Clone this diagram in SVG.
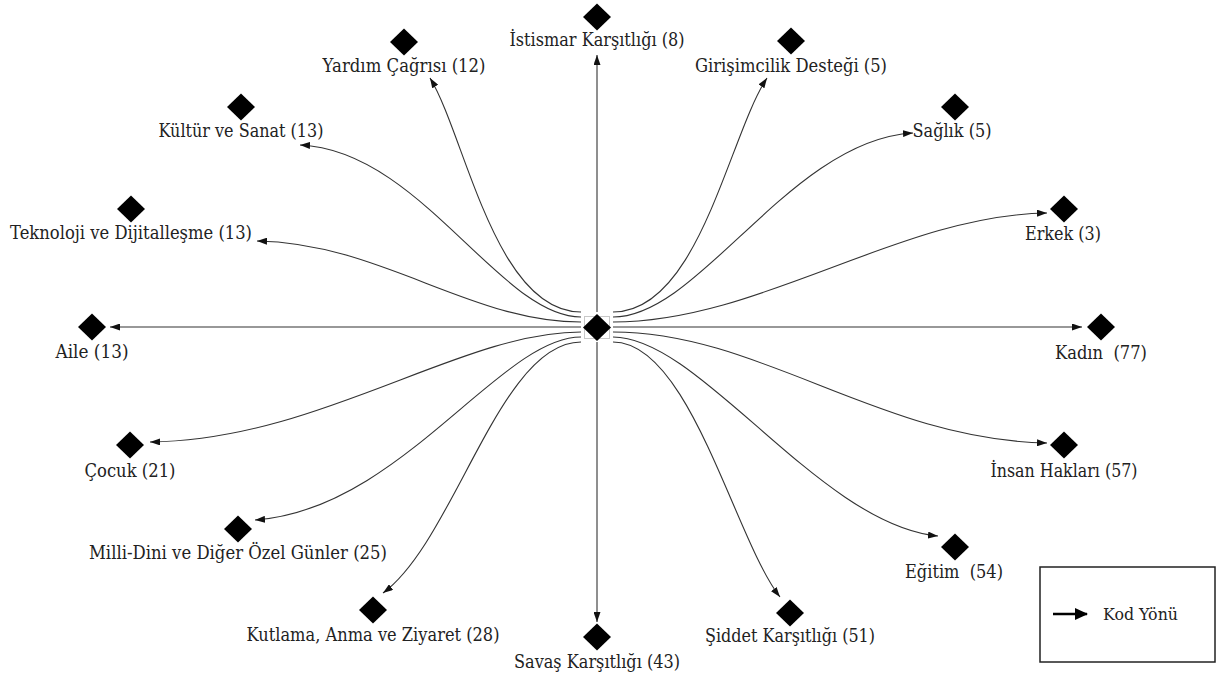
<svg xmlns="http://www.w3.org/2000/svg" width="1227" height="675" viewBox="0 0 1227 675">
<style>
  .lbl { font-family: "DejaVu Serif", "Liberation Serif", serif; font-size: 18px; fill: #222; text-anchor: middle; }
  .edge { fill: none; stroke: #333; stroke-width: 1.1; marker-end: url(#arr); }
  .dia { fill: #000; }
  .leg { font-family: "DejaVu Serif", "Liberation Serif", serif; font-size: 16px; fill: #222; }
</style>
<defs>
  <marker id="arr" markerUnits="userSpaceOnUse" markerWidth="10" markerHeight="7" refX="10" refY="3.5" orient="auto">
    <path d="M0,0 L10,3.5 L0,7 z" fill="#111"/>
  </marker>
  <marker id="arrL" markerUnits="userSpaceOnUse" markerWidth="14" markerHeight="12" refX="12" refY="6" orient="auto">
    <path d="M0,0 L13,6 L0,12 z" fill="#000"/>
  </marker>
  <polygon id="d" points="0,-13.5 14,0 0,13.5 -14,0"/>
</defs>
<rect width="1227" height="675" fill="#fff"/>

<g id="connectors">
  <path class="edge" d="M597,312 L597,55"/>
  <path class="edge" d="M597,342 L597,622"/>
  <path class="edge" d="M581,327 L110,327"/>
  <path class="edge" d="M613,327 L1082,327"/>
  <path class="edge" d="M581,312 C495,312 465,135 430,78"/>
  <path class="edge" d="M613,312 C699,312 729,135 767,78"/>
  <path class="edge" d="M581,317 C500,317 420,150 300,145"/>
  <path class="edge" d="M613,317 C700,317 790,140 913,133"/>
  <path class="edge" d="M581,322 C470,322 380,243 257,241"/>
  <path class="edge" d="M613,322 C760,322 900,215 1047,213"/>
  <path class="edge" d="M581,332 C460,332 320,440 150,442"/>
  <path class="edge" d="M613,332 C760,332 880,440 1047,443"/>
  <path class="edge" d="M581,337 C500,337 400,510 255,520"/>
  <path class="edge" d="M613,337 C700,337 820,525 938,536"/>
  <path class="edge" d="M581,342 C500,342 455,540 383,593"/>
  <path class="edge" d="M613,342 C690,342 735,540 780,597"/>
</g>

<g id="center">
  <rect x="584.5" y="316.5" width="25" height="22" fill="none" stroke="#c8c8c8" stroke-width="1"/>
  <use href="#d" x="597" y="327.5" class="dia"/>
</g>

<g id="n-istismar"><use href="#d" x="597" y="17" class="dia"/><text class="lbl" x="597" y="46" textLength="175" lengthAdjust="spacingAndGlyphs">İstismar Karşıtlığı (8)</text></g>
<g id="n-yardim"><use href="#d" x="404" y="42" class="dia"/><text class="lbl" x="404" y="72" textLength="163" lengthAdjust="spacingAndGlyphs">Yardım Çağrısı (12)</text></g>
<g id="n-girisim"><use href="#d" x="791" y="41" class="dia"/><text class="lbl" x="791" y="72" textLength="192" lengthAdjust="spacingAndGlyphs">Girişimcilik Desteği (5)</text></g>
<g id="n-kultur"><use href="#d" x="241" y="107" class="dia"/><text class="lbl" x="241" y="137" textLength="165" lengthAdjust="spacingAndGlyphs">Kültür ve Sanat (13)</text></g>
<g id="n-saglik"><use href="#d" x="955" y="107" class="dia"/><text class="lbl" x="952" y="137" textLength="79" lengthAdjust="spacingAndGlyphs">Sağlık (5)</text></g>
<g id="n-teknoloji"><use href="#d" x="131" y="209" class="dia"/><text class="lbl" x="131" y="239" textLength="242" lengthAdjust="spacingAndGlyphs">Teknoloji ve Dijitalleşme (13)</text></g>
<g id="n-erkek"><use href="#d" x="1064" y="209" class="dia"/><text class="lbl" x="1063" y="240" textLength="76" lengthAdjust="spacingAndGlyphs">Erkek (3)</text></g>
<g id="n-aile"><use href="#d" x="92" y="327" class="dia"/><text class="lbl" x="92" y="358" textLength="73" lengthAdjust="spacingAndGlyphs">Aile (13)</text></g>
<g id="n-kadin"><use href="#d" x="1101" y="327" class="dia"/><text class="lbl" x="1101" y="359" xml:space="preserve" textLength="92" lengthAdjust="spacingAndGlyphs">Kadın  (77)</text></g>
<g id="n-cocuk"><use href="#d" x="130" y="445" class="dia"/><text class="lbl" x="130" y="477" textLength="91" lengthAdjust="spacingAndGlyphs">Çocuk (21)</text></g>
<g id="n-insan"><use href="#d" x="1064" y="445" class="dia"/><text class="lbl" x="1064" y="477" textLength="147" lengthAdjust="spacingAndGlyphs">İnsan Hakları (57)</text></g>
<g id="n-milli"><use href="#d" x="238" y="529" class="dia"/><text class="lbl" x="238" y="559" textLength="298" lengthAdjust="spacingAndGlyphs">Milli-Dini ve Diğer Özel Günler (25)</text></g>
<g id="n-egitim"><use href="#d" x="955" y="547" class="dia"/><text class="lbl" x="954" y="578" xml:space="preserve" textLength="98" lengthAdjust="spacingAndGlyphs">Eğitim  (54)</text></g>
<g id="n-kutlama"><use href="#d" x="373" y="610" class="dia"/><text class="lbl" x="373" y="641" textLength="253" lengthAdjust="spacingAndGlyphs">Kutlama, Anma ve Ziyaret (28)</text></g>
<g id="n-savas"><use href="#d" x="597" y="637" class="dia"/><text class="lbl" x="597" y="668" textLength="166" lengthAdjust="spacingAndGlyphs">Savaş Karşıtlığı (43)</text></g>
<g id="n-siddet"><use href="#d" x="790" y="613" class="dia"/><text class="lbl" x="790" y="642" textLength="170" lengthAdjust="spacingAndGlyphs">Şiddet Karşıtlığı (51)</text></g>

<g id="legend">
  <rect x="1040" y="567" width="175" height="95" fill="#fff" stroke="#222" stroke-width="1.5"/>
  <line x1="1053" y1="614" x2="1087" y2="614" stroke="#000" stroke-width="2.5" marker-end="url(#arrL)"/>
  <text class="leg" x="1103" y="620" textLength="75" lengthAdjust="spacingAndGlyphs">Kod Yönü</text>
</g>
</svg>
